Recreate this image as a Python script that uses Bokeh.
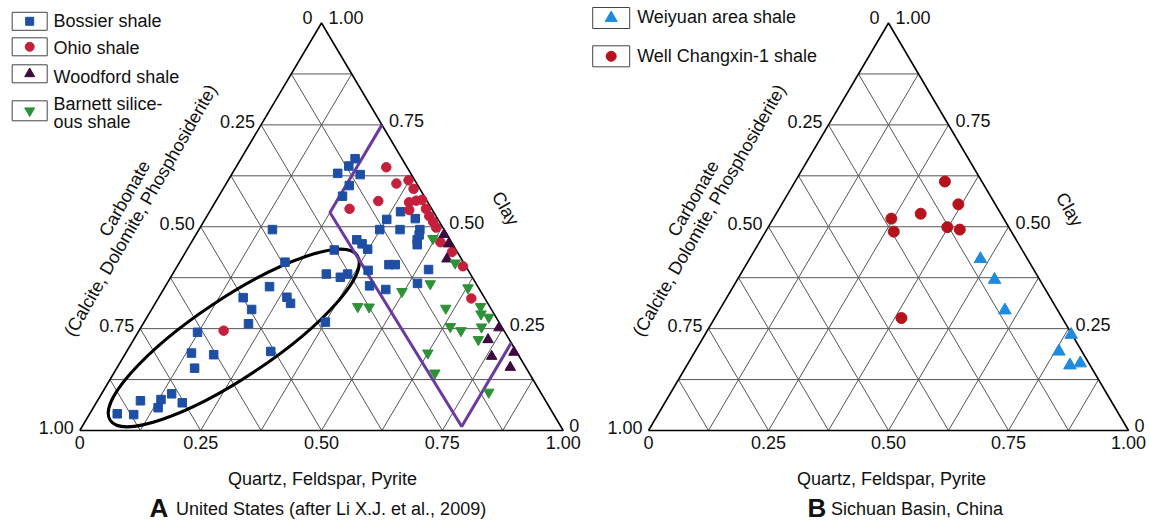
import math
from bokeh.plotting import figure
from bokeh.layouts import row
from bokeh.models import Range1d
from bokeh.core.properties import value
from bokeh.embed import file_html
from bokeh.resources import INLINE

# ---------------- data: fractions (Q = quartz+feldspar+pyrite, clay); carbonate = 1 - Q - clay
bossier_q = [0.236, 0.232, 0.218, 0.266, 0.257, 0.256, 0.395, 0.376, 0.434, 0.152,
             0.374, 0.416, 0.457, 0.462, 0.464, 0.470, 0.339, 0.355, 0.373, 0.305,
             0.218, 0.436, 0.449, 0.400, 0.524, 0.318, 0.351, 0.362, 0.216, 0.422,
             0.460, 0.518, 0.175, 0.265, 0.280, 0.207, 0.218, 0.375, 0.123, 0.136,
             0.184, 0.298, 0.161, 0.089, 0.130, 0.145, 0.178, 0.134, 0.057, 0.092]
bossier_clay = [0.667, 0.649, 0.631, 0.628, 0.601, 0.575, 0.537, 0.518, 0.520, 0.493,
                0.493, 0.493, 0.493, 0.480, 0.468, 0.456, 0.468, 0.458, 0.445, 0.443,
                0.413, 0.407, 0.407, 0.393, 0.395, 0.384, 0.376, 0.384, 0.353, 0.355,
                0.346, 0.361, 0.326, 0.327, 0.312, 0.297, 0.262, 0.266, 0.241, 0.190,
                0.186, 0.194, 0.153, 0.073, 0.076, 0.090, 0.068, 0.056, 0.041, 0.039]
ohio_q = [0.311, 0.352, 0.373, 0.394, 0.336, 0.401, 0.414, 0.425, 0.286, 0.411,
          0.444, 0.460, 0.475, 0.488, 0.515, 0.551, 0.591, 0.648, 0.175]
ohio_clay = [0.646, 0.606, 0.614, 0.593, 0.563, 0.560, 0.564, 0.566, 0.544, 0.541,
             0.544, 0.526, 0.512, 0.498, 0.462, 0.438, 0.403, 0.324, 0.245]
woodford_q = [0.513, 0.534, 0.549, 0.741, 0.733, 0.761, 0.802, 0.813]
woodford_clay = [0.481, 0.458, 0.421, 0.252, 0.223, 0.182, 0.192, 0.155]
barnett_q = [0.495, 0.571, 0.496, 0.545, 0.628, 0.607, 0.677, 0.687, 0.707, 0.639,
             0.666, 0.704, 0.713, 0.625, 0.664, 0.799, 0.423, 0.447]
barnett_clay = [0.471, 0.411, 0.341, 0.360, 0.350, 0.300, 0.304, 0.286, 0.278, 0.255,
                0.245, 0.254, 0.223, 0.190, 0.141, 0.094, 0.304, 0.303]
changxin_q = [0.312, 0.368, 0.301, 0.246, 0.267, 0.373, 0.402, 0.389]
changxin_clay = [0.611, 0.555, 0.532, 0.520, 0.488, 0.499, 0.493, 0.276]
weiyuan_q = [0.481, 0.536, 0.595, 0.763, 0.758, 0.798, 0.817]
weiyuan_clay = [0.421, 0.370, 0.295, 0.235, 0.194, 0.160, 0.165]

# siliceous-shale field (purple outline) and carbonate-rich envelope (ellipse)
field_q = [0.25, 0.25, 0.785, 0.785]
field_clay = [0.75, 0.535, 0.01, 0.215]
ellipse_q, ellipse_clay = 0.205, 0.227

tick_values = [0.0, 0.25, 0.5, 0.75, 1.0]
tick_labels = ["0", "0.25", "0.50", "0.75", "1.00"]

FONT = value("Liberation Sans")
FS = value("18px")
C_BOSSIER = "#1f4fa5"
C_OHIO = "#c41f3b"
C_WOODFORD = "#3d0b3f"
C_BARNETT = "#2d9136"
C_WEIYUAN = "#1e8be0"
C_CHANGXIN = "#b5121b"
C_FIELD = "#6b3a9e"


def tx(q, c):
    return [a + b / 2.0 for a, b in zip(q, c)]


def make_panel(win_left, width, ox, sx, oy=430.0, sy=407.5, top=0, height=522):
    x0 = (win_left - ox) / sx
    x1 = (win_left + width - ox) / sx
    y1 = (oy - top) / sy
    y0 = (oy - top - height) / sy
    p = figure(width=width, height=height, x_range=Range1d(x0, x1), y_range=Range1d(y0, y1),
               output_backend="svg", toolbar_location=None, x_axis_type=None, y_axis_type=None,
               min_border=0, outline_line_color=None, background_fill_color="white",
               border_fill_color="white")
    X = lambda px: (px - ox) / sx
    Y = lambda py: (oy - py) / sy
    dx, dy = 1.0 / sx, 1.0 / sy

    # grid lines every 1/8
    xs, ys = [], []
    for k in range(1, 8):
        f = k / 8.0
        xs.append([f / 2, 1 - f / 2]); ys.append([f, f])
        xs.append([f, f + (1 - f) / 2]); ys.append([0, 1 - f])
        xs.append([1 - f, (1 - f) / 2]); ys.append([0, 1 - f])
    p.multi_line(xs, ys, line_color="#555555", line_width=1)
    p.line([0, 1, 0.5, 0], [0, 0, 1, 0], line_color="black", line_width=1.6)

    def txt(x, y, t, align="center", baseline="middle", angle=0.0, size=FS, style="normal"):
        p.text(x=x, y=y, text=t, text_font=FONT, text_font_size=size, text_align=align,
               text_baseline=baseline, angle=angle, text_color="#111111", text_font_style=style)

    # bottom ticks (Q)
    txt(tick_values, [Y(442)] * 5, tick_labels)
    # left side ticks (carbonate)
    lx = [(1 - t) / 2 - 6 * dx for t in tick_values[1:]]
    ly = [(1 - t) + 3 * dy for t in tick_values[1:]]
    txt(lx, ly, tick_labels[1:], align="right")
    txt([0.5 - 9 * dx], [1 + 6 * dy], ["0"], align="right")
    # right side ticks (clay)
    rx = [1 - t / 2 + 7 * dx for t in tick_values[1:4]]
    ry = [t + 4 * dy for t in tick_values[1:4]]
    txt(rx, ry, tick_labels[1:4], align="left")
    txt([0.5 + 7 * dx], [1 + 6 * dy], ["1.00"], align="left")
    txt([1 + 6 * dx], [5 * dy], ["0"], align="left")
    return p, X, Y, txt


# ---------------- panel A
pA, XA, YA, tA = make_panel(0, 588, 79.3, 483.4)
pA.ellipse(x=[ellipse_q + ellipse_clay / 2], y=[ellipse_clay], width=297, height=79,
           width_units="screen", height_units="screen", angle=math.radians(33.7),
           fill_color=None, line_color="black", line_width=3)
pA.line(tx(field_q, field_clay), field_clay, line_color=C_FIELD, line_width=3)
pA.scatter(tx(bossier_q, bossier_clay), bossier_clay, marker="square", size=8.5,
           fill_color=C_BOSSIER, line_color=C_BOSSIER)
pA.scatter(tx(ohio_q, ohio_clay), ohio_clay, marker="circle", size=9.5,
           fill_color=C_OHIO, line_color=C_OHIO)
pA.scatter(tx(woodford_q, woodford_clay), woodford_clay, marker="triangle", size=10.5,
           fill_color=C_WOODFORD, line_color=C_WOODFORD)
pA.scatter(tx(barnett_q, barnett_clay), barnett_clay, marker="inverted_triangle", size=10.5,
           fill_color=C_BARNETT, line_color=C_BARNETT)

tA([XA(124)], [YA(198)], ["Carbonate"], angle=math.radians(60))
tA([XA(140)], [YA(210)], ["(Calcite, Dolomite, Phosphosiderite)"], angle=math.radians(60))
tA([XA(505)], [YA(208)], ["Clay"], angle=math.radians(-60))
tA([XA(322)], [YA(478)], ["Quartz, Feldspar, Pyrite"])
tA([XA(149)], [YA(507)], ["A"], align="left", size=value("26px"), style="bold")
tA([XA(175.5)], [YA(508)], ["United States (after Li X.J. et al., 2009)"], align="left")

# legend A
leg_y = [20.8, 46.3, 73.3, 110.3]
pA.rect([XA(29.2)] * 4, [YA(v) for v in leg_y], width=35, height=[18, 18, 18, 20],
        width_units="screen", height_units="screen", fill_color=None, line_color="#444444", line_width=1)
pA.scatter([XA(29.2)], [YA(leg_y[0])], marker="square", size=8, fill_color=C_BOSSIER, line_color=C_BOSSIER)
pA.scatter([XA(29.2)], [YA(leg_y[1])], marker="circle", size=9, fill_color=C_OHIO, line_color=C_OHIO)
pA.scatter([XA(29.2)], [YA(leg_y[2])], marker="triangle", size=10, fill_color=C_WOODFORD, line_color=C_WOODFORD)
pA.scatter([XA(29.2)], [YA(leg_y[3])], marker="inverted_triangle", size=10, fill_color=C_BARNETT, line_color=C_BARNETT)
tA([XA(53)] * 5, [YA(v) for v in [20.7, 47.7, 76, 103.3, 121.7]],
   ["Bossier shale", "Ohio shale", "Woodford shale", "Barnett silice-", "ous shale"], align="left")

# ---------------- panel B
pB, XB, YB, tB = make_panel(588, 561, 648.0, 480.0)
pB.scatter(tx(weiyuan_q, weiyuan_clay), weiyuan_clay, marker="triangle", size=12.5,
           fill_color=C_WEIYUAN, line_color=C_WEIYUAN)
pB.scatter(tx(changxin_q, changxin_clay), changxin_clay, marker="circle", size=11,
           fill_color=C_CHANGXIN, line_color=C_CHANGXIN)
tB([XB(692.7)], [YB(198)], ["Carbonate"], angle=math.radians(60))
tB([XB(708.7)], [YB(210)], ["(Calcite, Dolomite, Phosphosiderite)"], angle=math.radians(60))
tB([XB(1069)], [YB(209)], ["Clay"], angle=math.radians(-60))
tB([XB(891)], [YB(478)], ["Quartz, Feldspar, Pyrite"])
tB([XB(807)], [YB(507)], ["B"], align="left", size=value("26px"), style="bold")
tB([XB(830.5)], [YB(508)], ["Sichuan Basin, China"], align="left")

legB_y = [17.5, 55.8]
pB.rect([XB(610.7)] * 2, [YB(v) for v in legB_y], width=37, height=21,
        width_units="screen", height_units="screen", fill_color=None, line_color="#444444", line_width=1)
pB.scatter([XB(610.7)], [YB(legB_y[0])], marker="triangle", size=12, fill_color=C_WEIYUAN, line_color=C_WEIYUAN)
pB.scatter([XB(610.7)], [YB(legB_y[1])], marker="circle", size=10, fill_color=C_CHANGXIN, line_color=C_CHANGXIN)
tB([XB(636.7)] * 2, [YB(16.7), YB(55)], ["Weiyuan area shale", "Well Changxin-1 shale"], align="left")

layout = row(pA, pB)
open("out.html", "w").write(file_html(layout, INLINE))
